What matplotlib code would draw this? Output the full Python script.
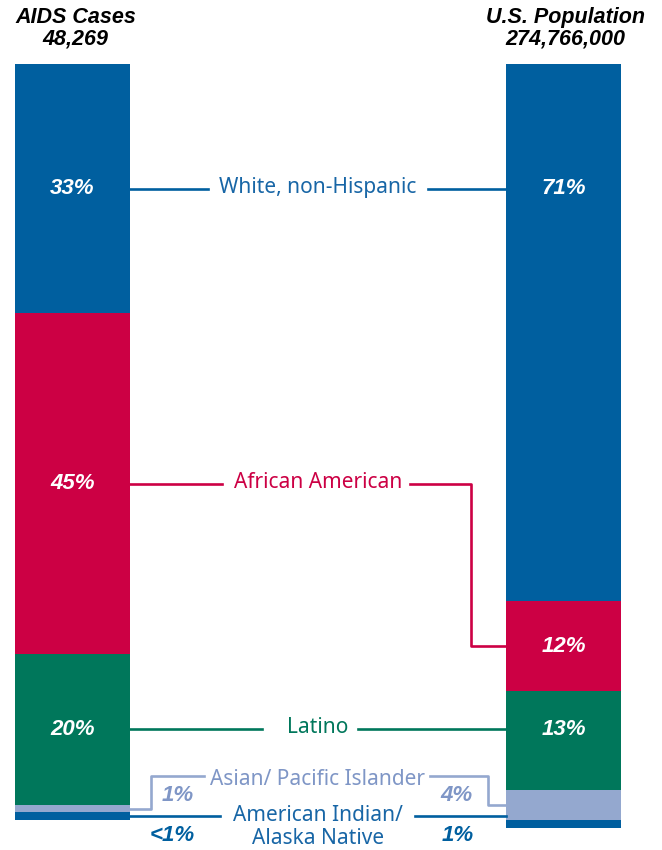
import matplotlib.pyplot as plt
import numpy as np

groups = ["White, non-Hispanic", "African American", "Latino",
          "Asian/ Pacific Islander", "American Indian/\nAlaska Native"]
aids_pct = [33, 45, 20, 1, 1]
pop_pct = [71, 12, 13, 4, 1]
aids_labels = ["33%", "45%", "20%", "1%", "<1%"]
pop_labels = ["71%", "12%", "13%", "4%", "1%"]
colors = ["#005f9f", "#cc0044", "#00775b", "#94a8cf", "#005f9f"]
text_colors = ["#1866a6", "#cc0044", "#00775b", "#7f96c6", "#1866a6"]

fig = plt.figure(figsize=(6.62, 8.5), dpi=100)
ax = fig.add_axes([0, 30 / 850, 1, 756 / 850])
ax.set_xlim(0, 662)
ax.set_ylim(100, 0)
ax.axis("off")

left_x, right_x, bar_w = 72.5, 563.5, 115
left_edge = left_x + bar_w / 2
right_edge = right_x - bar_w / 2

aids_top = np.concatenate([[0], np.cumsum(aids_pct)[:-1]])
pop_top = np.concatenate([[0], np.cumsum(pop_pct)[:-1]])
for i in range(len(groups)):
    ax.bar(left_x, aids_pct[i], bar_w, bottom=aids_top[i], color=colors[i],
           clip_on=False)
    ax.bar(right_x, pop_pct[i], bar_w, bottom=pop_top[i], color=colors[i],
           clip_on=False)

aids_mid = aids_top + np.array(aids_pct) / 2
pop_mid = pop_top + np.array(pop_pct) / 2

hdr = dict(ha="center", va="center", fontsize=15.5, fontweight="bold",
           fontstyle="italic", color="black", linespacing=1.05,
           family=["Liberation Sans", "DejaVu Sans"])
ax.text(left_x + 3, -4.7, "AIDS Cases\n48,269", **hdr)
ax.text(right_x + 2, -4.7, "U.S. Population\n274,766,000", **hdr)

lab = dict(ha="center", va="center", fontsize=15, clip_on=False,
           family=["Noto Sans", "DejaVu Sans"])
pct = dict(ha="center", va="center", fontsize=16, fontweight="bold",
           fontstyle="italic", family=["Liberation Sans", "DejaVu Sans"])
lw = 1.9

# White, non-Hispanic: straight connector
y = aids_mid[0]
ax.plot([left_edge, 208], [y, y], color=colors[0], lw=lw)
ax.plot([428, right_edge], [y, y], color=colors[0], lw=lw)
ax.text(318, y - 0.2, groups[0], color=text_colors[0], **lab)
ax.text(left_x, y, aids_labels[0], color="white", **pct)
ax.text(right_x, y, pop_labels[0], color="white", **pct)

# African American: elbow down to the smaller right segment
y = aids_mid[1]
ax.plot([left_edge, 222], [y, y], color=colors[1], lw=lw)
ax.plot([410, 471, 471, right_edge], [y, y, pop_mid[1], pop_mid[1]],
        color=colors[1], lw=lw)
ax.text(318, y - 0.2, groups[1], color=text_colors[1], **lab)
ax.text(left_x, y, aids_labels[1], color="white", **pct)
ax.text(right_x, pop_mid[1], pop_labels[1], color="white", **pct)

# Latino
y = aids_mid[2]
ax.plot([left_edge, 262], [y, y], color=colors[2], lw=lw)
ax.plot([358, right_edge], [y, y], color=colors[2], lw=lw)
ax.text(318, y - 0.2, groups[2], color=text_colors[2], **lab)
ax.text(left_x, y, aids_labels[2], color="white", **pct)
ax.text(right_x, y, pop_labels[2], color="white", **pct)

# Asian/Pacific Islander: raised label with stepped connectors
ya = 94.15
ax.plot([left_edge, 151, 151, 204], [aids_mid[3], aids_mid[3], ya, ya],
        color=colors[3], lw=lw, clip_on=False)
ax.plot([430, 488, 488, right_edge], [ya, ya, pop_mid[3], pop_mid[3]],
        color=colors[3], lw=lw, clip_on=False)
ax.text(318, ya + 0.55, groups[3], color=text_colors[3], **lab)
ax.text(178, 96.8, aids_labels[3], color=text_colors[3], **pct)
ax.text(456, 96.8, pop_labels[3], color=text_colors[3], **pct)

# American Indian/Alaska Native
y = aids_mid[4]
ax.plot([left_edge, 220], [y, y], color=colors[4], lw=lw, clip_on=False)
ax.plot([415, right_edge], [y, y], color=colors[4], lw=lw, clip_on=False)
ax.text(318, y + 1.45, groups[4], color=text_colors[4], linespacing=1.1,
        **lab)
ax.text(172, y + 2.5, aids_labels[4], color=colors[4], clip_on=False, **pct)
ax.text(458, y + 2.5, pop_labels[4], color=colors[4], clip_on=False, **pct)

fig.savefig("out.png", dpi=100)
